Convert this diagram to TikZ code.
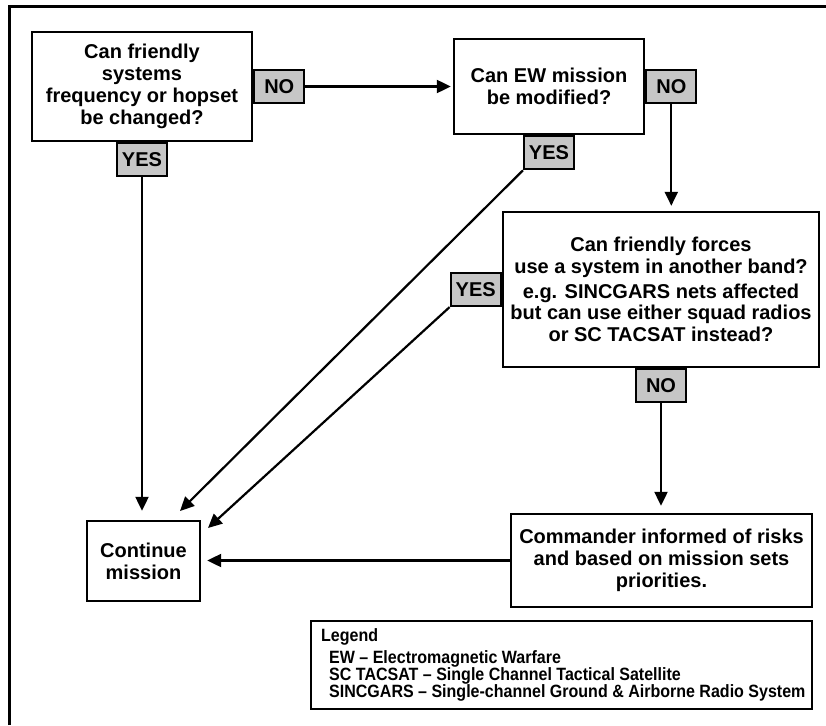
\documentclass[tikz,border=0pt]{standalone}
\usepackage{fontspec}
\setmainfont{Liberation Sans}
\usetikzlibrary{arrows.meta}
\newcommand{\legsq}[1]{\scalebox{0.9}[1]{#1}}
\begin{document}
\begin{tikzpicture}[x=1pt,y=-1pt,
  box/.style={draw, line width=2.4pt, fill=white, align=center, inner sep=2pt,
    font=\fontsize{20}{21.8}\selectfont\bfseries},
  lbl/.style={draw, line width=2.2pt, fill=gray!45, minimum width=50pt, minimum height=33pt,
    inner sep=0pt, font=\fontsize{20}{22}\selectfont\bfseries},
  legtxt/.style={anchor=base west, inner sep=0pt, font=\fontsize{17.8}{18}\selectfont\bfseries},
  conn/.style={line width=2.2pt, -{Triangle[length=14pt,width=13pt]}},
]
\useasboundingbox (0,0) rectangle (826,725);
\fill[white] (0,0) rectangle (826,725);
\draw[line width=3pt] (9,725) -- (9,7) -- (826,7);

% main boxes
\node[box, minimum width=220pt, minimum height=109pt] (A) at (142,86.5)
  {Can friendly\\systems\\frequency or hopset\\be changed?};
\node[box, minimum width=190pt, minimum height=95pt] (B) at (549,86.5)
  {Can EW mission\\be modified?};
\node[box, minimum width=316pt, minimum height=155pt] (C) at (661,289.5)
  {Can friendly forces\\use a system in another band?\\[3pt]e.g. SINCGARS nets affected\\but can use either squad radios\\or SC TACSAT instead?};
\node[box, minimum width=301pt, minimum height=93pt] (D) at (661.5,560.5)
  {Commander informed of risks\\and based on mission sets\\priorities.};
\node[box, minimum width=113pt, minimum height=80pt] (E) at (143.5,561)
  {Continue\\mission};

% legend
\node[draw, line width=2.4pt, minimum width=501pt, minimum height=88pt] (L) at (561.5,665) {};
\node[legtxt] (L0) at (321,641) {\legsq{Legend}};
\node[legtxt] (L1) at (329,663) {\legsq{EW – Electromagnetic Warfare}};
\node[legtxt] (L2) at (329,680) {\legsq{SC TACSAT – Single Channel Tactical Satellite}};
\node[legtxt] (L3) at (329,697) {\legsq{SINCGARS – Single-channel Ground \& Airborne Radio System}};

% labels
\node[lbl, anchor=west] (noA) at (A.east) {NO};
\node[lbl, anchor=north] (yesA) at (A.south) {YES};
\node[lbl, anchor=west] (noB) at (B.east) {NO};
\node[lbl, anchor=north] (yesB) at (B.south) {YES};
\node[lbl, anchor=east] (yesC) at (C.west) {YES};
\node[lbl, anchor=north] (noC) at (C.south) {NO};

% connectors
\coordinate (tB) at (180,511);
\coordinate (tC) at (208,528);
\draw[conn, shorten >=2pt] (noA.east) -- (B.west);
\draw[conn, shorten >=9pt] (yesA.south) -- (yesA.south |- E.north);
\draw[conn] (yesB.south west) -- (tB);
\draw[conn] (yesC.south west) -- (tC);
\draw[conn, shorten >=6pt] (D.west) -- (D.west -| E.east);
\draw[conn, shorten >=5pt] (noB.south) -- (noB.south |- C.north);
\draw[conn, shorten >=7pt] (noC.south) -- (noC.south |- D.north);
\end{tikzpicture}
\end{document}
